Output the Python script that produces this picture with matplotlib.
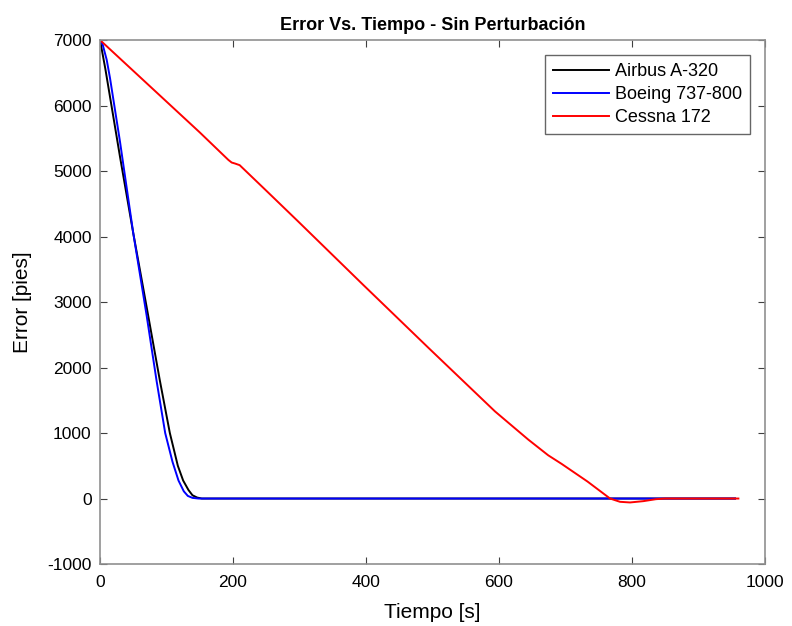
import matplotlib
matplotlib.use("Agg")
import matplotlib.pyplot as plt

# Datos (tiempo [s], error [pies])
t_airbus = [0, 8, 30, 50, 70, 90, 105, 117, 125, 133, 139, 146, 153, 170, 955]
e_airbus = [7000, 6560, 5220, 4050, 2930, 1800, 1000, 500, 275, 130, 50, 15, 0, 0, 0]

t_boeing = [0, 4, 10, 15, 30, 50, 70, 85, 98, 109, 118, 126, 132, 139, 148, 170, 955]
e_boeing = [7000, 6930, 6700, 6420, 5450, 4050, 2800, 1800, 1000, 560, 275, 110, 40, 10, 0, 0, 0]

t_cessna = [0, 100, 150, 193, 198, 203, 210, 248, 297, 396, 495, 594, 644, 674,
            694, 733, 767, 782, 797, 817, 836, 850, 960]
e_cessna = [7000, 6060, 5590, 5170, 5130, 5115, 5090, 4720, 4240, 3260, 2290, 1330, 900, 660,
            530, 260, 0, -50, -60, -40, -10, 0, 0]

xticks = [0, 200, 400, 600, 800, 1000]
yticks = [-1000, 0, 1000, 2000, 3000, 4000, 5000, 6000, 7000]

plt.rcParams['font.family'] = ['Liberation Sans', 'DejaVu Sans']

fig = plt.figure(figsize=(7.92, 6.26), dpi=100)
ax = fig.add_axes([0.1263, 0.099, 0.8396, 0.837])

ax.plot(t_airbus, e_airbus, color='black', lw=1.4, label='Airbus A-320')
ax.plot(t_boeing, e_boeing, color='#0000ff', lw=1.4, label='Boeing 737-800')
ax.plot(t_cessna, e_cessna, color='#ff0000', lw=1.4, label='Cessna 172')

ax.set_xlim(0, 1000)
ax.set_ylim(-1000, 7000)
ax.set_xticks(xticks)
ax.set_yticks(yticks)
ax.set_xticklabels([str(v) for v in xticks], fontsize=12.5)
ax.set_yticklabels([str(v) for v in yticks], fontsize=12.5)
ax.tick_params(axis='x', pad=8)
ax.tick_params(axis='y', pad=6)
ax.tick_params(direction='in', top=True, right=True, length=5, color='#404040')
for s in ax.spines.values():
    s.set_color('#909090')
    s.set_linewidth(1.2)

ax.set_xlabel('Tiempo [s]', fontsize=15, labelpad=9)
ax.set_ylabel('Error [pies]', fontsize=15, labelpad=11)
ax.set_title('Error Vs. Tiempo - Sin Perturbación', fontsize=13, fontweight='bold', pad=7)

leg = ax.legend(loc='upper right', fontsize=13, frameon=True, fancybox=False,
                edgecolor='#404040', handlelength=3.1, borderaxespad=0.83,
                borderpad=0.45, labelspacing=0.33, handletextpad=0.3)
leg.get_frame().set_linewidth(1.0)

fig.savefig('out.png', dpi=100)
